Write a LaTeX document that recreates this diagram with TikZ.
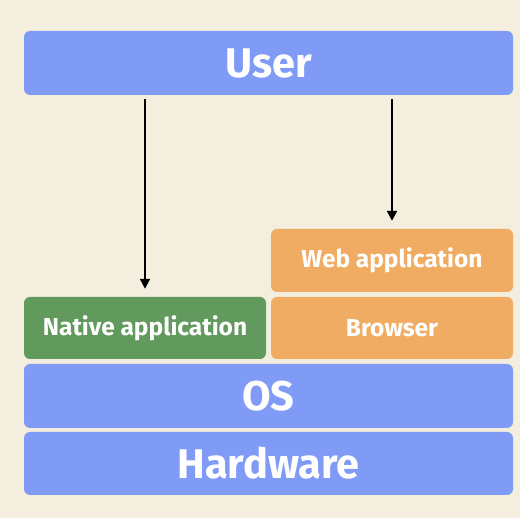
\documentclass[tikz,border=0pt]{standalone}
\usepackage{fontspec}
\setmainfont{Fira Sans}
\usetikzlibrary{arrows.meta}
\definecolor{bgc}{HTML}{F3EEDE}
\definecolor{bluec}{HTML}{7F9BF5}
\definecolor{greenc}{HTML}{629A5E}
\definecolor{orangec}{HTML}{F0AC62}
\tikzset{
  layer/.style={rounded corners=6pt, inner sep=0pt, text=white, font=\bfseries},
  big/.style={layer, fill=bluec, minimum width=489pt, font=\fontsize{41.5}{44}\selectfont\bfseries},
  small/.style={layer, minimum width=242pt, font=\fontsize{24.5}{26}\selectfont\bfseries},
  arr/.style={line width=2pt, -{Triangle[length=10pt,width=10pt]}, shorten <=4pt, shorten >=8pt}
}
\begin{document}
\begin{tikzpicture}[x=1pt,y=-1pt]
\fill[bgc] (0,0) rectangle (520,518);
\useasboundingbox (0,0) rectangle (520,518);
\node[big, minimum height=64pt] (User) at (268.5,63) {User};
\node[small, fill=orangec, minimum height=63pt] (Web) at (392,260.5) {Web application};
\node[small, fill=greenc, minimum height=62pt] (Native) at (145,328) {Native application};
\node[small, fill=orangec, minimum height=62pt] (Browser) at (392,328) {Browser};
\node[big, minimum height=64pt] (OS) at (268.5,396) {OS};
\node[big, minimum height=63pt] (Hardware) at (268.5,463.5) {Hardware};
\draw[arr] (Native.north |- User.south) -- (Native.north);
\draw[arr] (Web.north |- User.south) -- (Web.north);
\end{tikzpicture}
\end{document}
